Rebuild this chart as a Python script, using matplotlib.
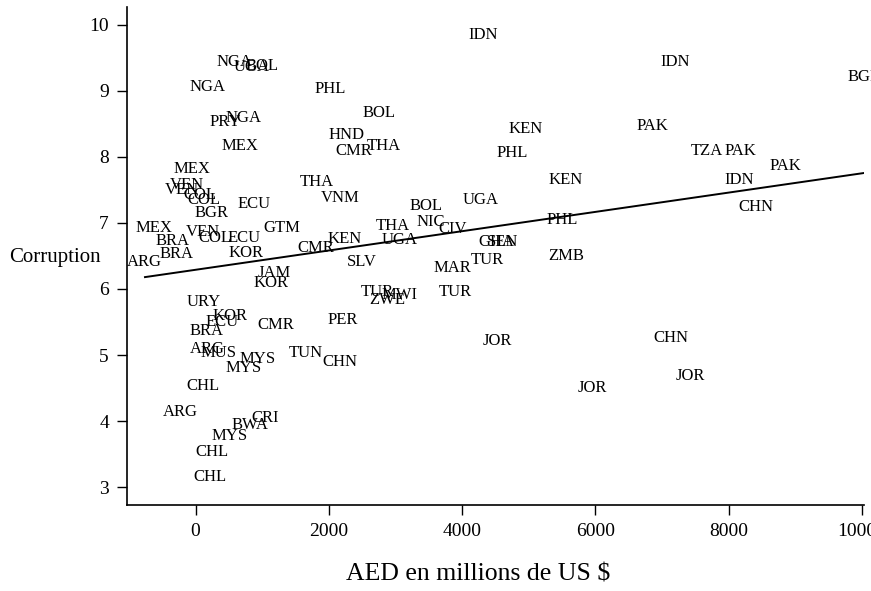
import numpy as np
import matplotlib.pyplot as plt

# country labels used as markers (AED vs corruption index)
countries = ["NGA", "UGA", "BOL", "NGA", "PHL", "BOL", "PRY", "NGA", "MEX", "HND",
             "CMR", "THA", "MEX", "VEN", "VEN", "COL", "COL", "BGR", "ECU", "THA",
             "VNM", "BOL", "UGA", "MEX", "BRA", "VEN", "COL", "ECU", "GTM", "BRA",
             "ARG", "KOR", "CMR", "KEN", "THA", "NIC", "CIV", "UGA", "SLV", "MAR",
             "TUR", "GHA", "SEN", "JAM", "KOR", "TUR", "MWI", "ZWE", "TUR", "PHL",
             "KEN", "ZMB", "KEN", "PHL", "IDN", "IDN", "BGR", "PAK", "TZA", "PAK",
             "PAK", "IDN", "CHN", "JOR", "CHN", "JOR", "JOR", "URY", "KOR", "ECU",
             "BRA", "CMR", "PER", "ARG", "MUS", "MYS", "MYS", "TUN", "CHN", "CHL",
             "ARG", "CRI", "BWA", "MYS", "CHL", "CHL"]

aed = [585, 840, 990, 180, 2025, 2760, 450, 720, 660, 2265,
       2370, 2820, -60, -135, -210, 60, 120, 240, 870, 1815,
       2175, 3465, 4275, -630, -345, 105, 285, 720, 1290, -285,
       -765, 750, 1800, 2235, 2955, 3525, 3855, 3060, 2490, 3855,
       4380, 4515, 4605, 1185, 1125, 2730, 3060, 2880, 3900, 5505,
       5550, 5565, 4950, 4755, 4320, 7200, 10035, 6855, 7680, 8175,
       8850, 8160, 8415, 4530, 7140, 7425, 5955, 120, 510, 390,
       165, 1200, 2205, 180, 345, 930, 720, 1650, 2160, 105,
       -225, 1050, 810, 510, 240, 210]

corruption = [9.44, 9.36, 9.38, 9.06, 9.02, 8.67, 8.53, 8.59, 8.17, 8.33,
              8.09, 8.17, 7.82, 7.58, 7.50, 7.42, 7.35, 7.15, 7.29, 7.62,
              7.38, 7.26, 7.35, 6.92, 6.73, 6.86, 6.77, 6.77, 6.92, 6.53,
              6.41, 6.55, 6.62, 6.76, 6.95, 7.02, 6.91, 6.74, 6.41, 6.32,
              6.44, 6.71, 6.71, 6.24, 6.09, 5.95, 5.91, 5.83, 5.95, 7.05,
              7.65, 6.50, 8.42, 8.05, 9.85, 9.44, 9.21, 8.47, 8.09, 8.09,
              7.86, 7.65, 7.24, 5.21, 5.26, 4.68, 4.50, 5.80, 5.59, 5.50,
              5.36, 5.45, 5.53, 5.09, 5.03, 4.94, 4.80, 5.03, 4.89, 4.53,
              4.14, 4.05, 3.94, 3.77, 3.53, 3.15]

# fitted line
fit_x = [-760, 10030]
fit_intercept = 6.29
fit_slope = 0.000146

xticks = [0, 2000, 4000, 6000, 8000, 10000]
yticks = [3, 4, 5, 6, 7, 8, 9, 10]

serif = "Liberation Serif"

fig = plt.figure(figsize=(8.71, 5.91), dpi=100)
ax = fig.add_axes([0.1458, 0.1455, 0.846, 0.843])

for name, x, y in zip(countries, aed, corruption):
    ax.text(x, y, name, ha="center", va="center", fontsize=12,
            family=serif, clip_on=False)

fx = np.array(fit_x)
ax.plot(fx, fit_intercept + fit_slope * fx, color="black", linewidth=1.4)

ax.set_xlim(-1030, 10030)
ax.set_ylim(2.73, 10.27)
ax.set_xticks(xticks)
ax.set_yticks(yticks)
ax.set_xticklabels([str(t) for t in xticks], family=serif, fontsize=14)
ax.set_yticklabels([str(t) for t in yticks], family=serif, fontsize=14)
ax.tick_params(direction="out", length=7, width=1, pad=6)

ax.spines["top"].set_visible(False)
ax.spines["right"].set_visible(False)
ax.spines["left"].set_linewidth(1.2)
ax.spines["bottom"].set_linewidth(1.2)

ax.set_xlabel("AED en millions de US $", family=serif, fontsize=18.5)
ax.xaxis.set_label_coords(0.476, -0.118)
fig.text(0.01, 0.565, "Corruption", family=serif, fontsize=15,
         ha="left", va="center")

fig.savefig("out.png", dpi=100)
